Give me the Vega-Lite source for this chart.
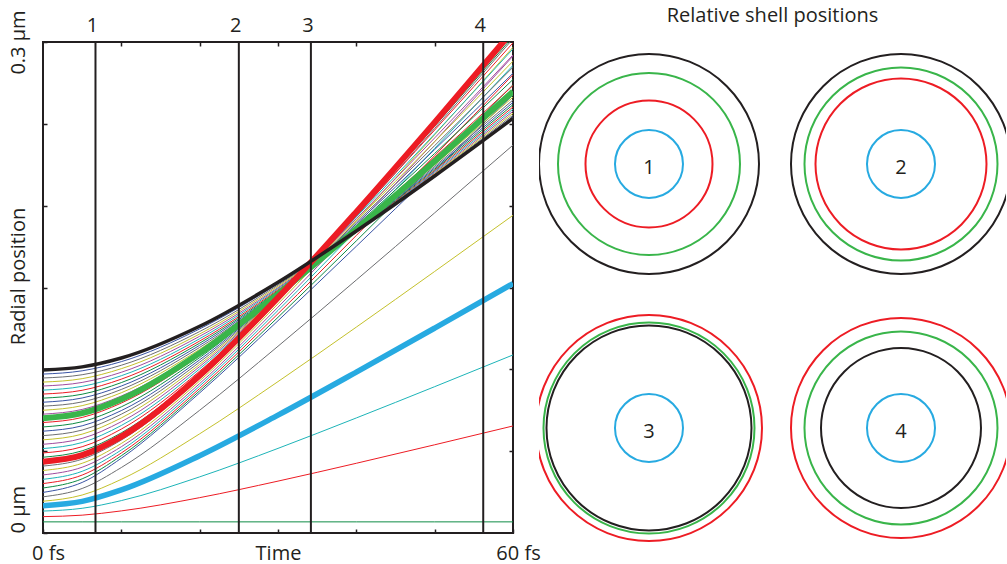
{
  "$schema": "https://vega.github.io/schema/vega-lite/v6.json",
  "background": "white",
  "padding": {"left": 6, "top": 6, "right": 0, "bottom": 0},
  "config": {
    "font": "Open Sans",
    "view": {"stroke": null},
    "axis": {"grid": false, "domain": false, "tickColor": "#231f20", "tickWidth": 1.5, "labelColor": "#231f20", "labelFontSize": 20, "titleColor": "#231f20", "titleFontSize": 20, "titleFontWeight": "normal", "labelFlush": false, "labelOverlap": false}
  },
  "datasets": {
    "moments": [
      {"moment": "1", "t": 6.7}, {"moment": "2", "t": 25}, {"moment": "3", "t": 34.2}, {"moment": "4", "t": 56.2}
    ],
    "circles": [
      {"panel": "1", "col": 1, "row": 1, "shell": 35, "radius": 110},
      {"panel": "1", "col": 1, "row": 1, "shell": 23, "radius": 91},
      {"panel": "1", "col": 1, "row": 1, "shell": 13, "radius": 63.5},
      {"panel": "1", "col": 1, "row": 1, "shell": 3, "radius": 34},
      {"panel": "2", "col": 2, "row": 1, "shell": 35, "radius": 110},
      {"panel": "2", "col": 2, "row": 1, "shell": 23, "radius": 96.5},
      {"panel": "2", "col": 2, "row": 1, "shell": 13, "radius": 85.5},
      {"panel": "2", "col": 2, "row": 1, "shell": 3, "radius": 34},
      {"panel": "3", "col": 1, "row": 2, "shell": 13, "radius": 113},
      {"panel": "3", "col": 1, "row": 2, "shell": 23, "radius": 105.5},
      {"panel": "3", "col": 1, "row": 2, "shell": 35, "radius": 102.5},
      {"panel": "3", "col": 1, "row": 2, "shell": 3, "radius": 34},
      {"panel": "4", "col": 2, "row": 2, "shell": 13, "radius": 110},
      {"panel": "4", "col": 2, "row": 2, "shell": 23, "radius": 96.5},
      {"panel": "4", "col": 2, "row": 2, "shell": 35, "radius": 80},
      {"panel": "4", "col": 2, "row": 2, "shell": 3, "radius": 34}
    ],
    "shells": [
      {"k":0,"t":0,"r":0.0068},{"k":0,"t":5,"r":0.0068},{"k":0,"t":10,"r":0.0068},{"k":0,"t":20,"r":0.0068},{"k":0,"t":30,"r":0.0068},{"k":0,"t":40,"r":0.0068},{"k":0,"t":50,"r":0.0068},{"k":0,"t":60,"r":0.0068},
      {"k":1,"t":0,"r":0.0100},{"k":1,"t":5,"r":0.0109},{"k":1,"t":10,"r":0.0135},{"k":1,"t":20,"r":0.0216},{"k":1,"t":30,"r":0.0317},{"k":1,"t":40,"r":0.0426},{"k":1,"t":50,"r":0.0539},{"k":1,"t":60,"r":0.0654},
      {"k":2,"t":0,"r":0.0134},{"k":2,"t":5,"r":0.0151},{"k":2,"t":10,"r":0.0198},{"k":2,"t":20,"r":0.0343},{"k":2,"t":30,"r":0.0517},{"k":2,"t":40,"r":0.0703},{"k":2,"t":50,"r":0.0894},{"k":2,"t":60,"r":0.1088},
      {"k":3,"t":0,"r":0.0167},{"k":3,"t":5,"r":0.0193},{"k":3,"t":10,"r":0.0263},{"k":3,"t":20,"r":0.0472},{"k":3,"t":30,"r":0.0720},{"k":3,"t":40,"r":0.0983},{"k":3,"t":50,"r":0.1252},{"k":3,"t":60,"r":0.1524},
      {"k":4,"t":0,"r":0.0194},{"k":4,"t":5,"r":0.0232},{"k":4,"t":10,"r":0.0328},{"k":4,"t":20,"r":0.0606},{"k":4,"t":30,"r":0.0925},{"k":4,"t":40,"r":0.1258},{"k":4,"t":50,"r":0.1598},{"k":4,"t":60,"r":0.1941},
      {"k":5,"t":0,"r":0.0221},{"k":5,"t":5,"r":0.0272},{"k":5,"t":10,"r":0.0400},{"k":5,"t":20,"r":0.0750},{"k":5,"t":30,"r":0.1141},{"k":5,"t":40,"r":0.1546},{"k":5,"t":50,"r":0.1956},{"k":5,"t":60,"r":0.2370},
      {"k":6,"t":0,"r":0.0248},{"k":6,"t":5,"r":0.0309},{"k":6,"t":10,"r":0.0457},{"k":6,"t":20,"r":0.0856},{"k":6,"t":30,"r":0.1297},{"k":6,"t":40,"r":0.1752},{"k":6,"t":50,"r":0.2213},{"k":6,"t":60,"r":0.2677},
      {"k":7,"t":0,"r":0.0275},{"k":7,"t":5,"r":0.0331},{"k":7,"t":10,"r":0.0472},{"k":7,"t":20,"r":0.0869},{"k":7,"t":30,"r":0.1318},{"k":7,"t":40,"r":0.1785},{"k":7,"t":50,"r":0.2260},{"k":7,"t":60,"r":0.2739},
      {"k":8,"t":0,"r":0.0302},{"k":8,"t":5,"r":0.0354},{"k":8,"t":10,"r":0.0489},{"k":8,"t":20,"r":0.0883},{"k":8,"t":30,"r":0.1340},{"k":8,"t":40,"r":0.1818},{"k":8,"t":50,"r":0.2306},{"k":8,"t":60,"r":0.2800},
      {"k":9,"t":0,"r":0.0328},{"k":9,"t":5,"r":0.0377},{"k":9,"t":10,"r":0.0507},{"k":9,"t":20,"r":0.0898},{"k":9,"t":30,"r":0.1360},{"k":9,"t":40,"r":0.1849},{"k":9,"t":50,"r":0.2350},{"k":9,"t":60,"r":0.2857},
      {"k":10,"t":0,"r":0.0355},{"k":10,"t":5,"r":0.0402},{"k":10,"t":10,"r":0.0527},{"k":10,"t":20,"r":0.0913},{"k":10,"t":30,"r":0.1380},{"k":10,"t":40,"r":0.1879},{"k":10,"t":50,"r":0.2392},{"k":10,"t":60,"r":0.2914},
      {"k":11,"t":0,"r":0.0382},{"k":11,"t":5,"r":0.0426},{"k":11,"t":10,"r":0.0547},{"k":11,"t":20,"r":0.0929},{"k":11,"t":30,"r":0.1400},{"k":11,"t":40,"r":0.1907},{"k":11,"t":50,"r":0.2433},{"k":11,"t":60,"r":0.2968},
      {"k":12,"t":0,"r":0.0409},{"k":12,"t":5,"r":0.0451},{"k":12,"t":10,"r":0.0568},{"k":12,"t":20,"r":0.0945},{"k":12,"t":30,"r":0.1419},{"k":12,"t":40,"r":0.1935},{"k":12,"t":50,"r":0.2472},{"k":12,"t":60,"r":0.3020},
      {"k":13,"t":0,"r":0.0436},{"k":13,"t":5,"r":0.0476},{"k":13,"t":10,"r":0.0589},{"k":13,"t":20,"r":0.0962},{"k":13,"t":30,"r":0.1438},{"k":13,"t":40,"r":0.1962},{"k":13,"t":50,"r":0.2509},{"k":13,"t":60,"r":0.3070},
      {"k":14,"t":0,"r":0.0463},{"k":14,"t":5,"r":0.0502},{"k":14,"t":10,"r":0.0612},{"k":14,"t":20,"r":0.0975},{"k":14,"t":30,"r":0.1440},{"k":14,"t":40,"r":0.1951},{"k":14,"t":50,"r":0.2486},{"k":14,"t":60,"r":0.3033},
      {"k":15,"t":0,"r":0.0489},{"k":15,"t":5,"r":0.0527},{"k":15,"t":10,"r":0.0635},{"k":15,"t":20,"r":0.0989},{"k":15,"t":30,"r":0.1443},{"k":15,"t":40,"r":0.1941},{"k":15,"t":50,"r":0.2462},{"k":15,"t":60,"r":0.2995},
      {"k":16,"t":0,"r":0.0516},{"k":16,"t":5,"r":0.0553},{"k":16,"t":10,"r":0.0657},{"k":16,"t":20,"r":0.1003},{"k":16,"t":30,"r":0.1445},{"k":16,"t":40,"r":0.1931},{"k":16,"t":50,"r":0.2438},{"k":16,"t":60,"r":0.2958},
      {"k":17,"t":0,"r":0.0542},{"k":17,"t":5,"r":0.0578},{"k":17,"t":10,"r":0.0680},{"k":17,"t":20,"r":0.1017},{"k":17,"t":30,"r":0.1447},{"k":17,"t":40,"r":0.1920},{"k":17,"t":50,"r":0.2414},{"k":17,"t":60,"r":0.2921},
      {"k":18,"t":0,"r":0.0569},{"k":18,"t":5,"r":0.0604},{"k":18,"t":10,"r":0.0703},{"k":18,"t":20,"r":0.1030},{"k":18,"t":30,"r":0.1449},{"k":18,"t":40,"r":0.1910},{"k":18,"t":50,"r":0.2391},{"k":18,"t":60,"r":0.2883},
      {"k":19,"t":0,"r":0.0595},{"k":19,"t":5,"r":0.0629},{"k":19,"t":10,"r":0.0726},{"k":19,"t":20,"r":0.1044},{"k":19,"t":30,"r":0.1451},{"k":19,"t":40,"r":0.1899},{"k":19,"t":50,"r":0.2367},{"k":19,"t":60,"r":0.2846},
      {"k":20,"t":0,"r":0.0622},{"k":20,"t":5,"r":0.0655},{"k":20,"t":10,"r":0.0748},{"k":20,"t":20,"r":0.1058},{"k":20,"t":30,"r":0.1454},{"k":20,"t":40,"r":0.1889},{"k":20,"t":50,"r":0.2343},{"k":20,"t":60,"r":0.2809},
      {"k":21,"t":0,"r":0.0648},{"k":21,"t":5,"r":0.0680},{"k":21,"t":10,"r":0.0771},{"k":21,"t":20,"r":0.1072},{"k":21,"t":30,"r":0.1456},{"k":21,"t":40,"r":0.1878},{"k":21,"t":50,"r":0.2319},{"k":21,"t":60,"r":0.2771},
      {"k":22,"t":0,"r":0.0675},{"k":22,"t":5,"r":0.0706},{"k":22,"t":10,"r":0.0794},{"k":22,"t":20,"r":0.1085},{"k":22,"t":30,"r":0.1458},{"k":22,"t":40,"r":0.1868},{"k":22,"t":50,"r":0.2296},{"k":22,"t":60,"r":0.2734},
      {"k":23,"t":0,"r":0.0701},{"k":23,"t":5,"r":0.0732},{"k":23,"t":10,"r":0.0817},{"k":23,"t":20,"r":0.1099},{"k":23,"t":30,"r":0.1460},{"k":23,"t":40,"r":0.1857},{"k":23,"t":50,"r":0.2272},{"k":23,"t":60,"r":0.2697},
      {"k":24,"t":0,"r":0.0726},{"k":24,"t":5,"r":0.0755},{"k":24,"t":10,"r":0.0837},{"k":24,"t":20,"r":0.1110},{"k":24,"t":30,"r":0.1463},{"k":24,"t":40,"r":0.1853},{"k":24,"t":50,"r":0.2261},{"k":24,"t":60,"r":0.2679},
      {"k":25,"t":0,"r":0.0750},{"k":25,"t":5,"r":0.0778},{"k":25,"t":10,"r":0.0857},{"k":25,"t":20,"r":0.1122},{"k":25,"t":30,"r":0.1467},{"k":25,"t":40,"r":0.1849},{"k":25,"t":50,"r":0.2250},{"k":25,"t":60,"r":0.2663},
      {"k":26,"t":0,"r":0.0775},{"k":26,"t":5,"r":0.0801},{"k":26,"t":10,"r":0.0877},{"k":26,"t":20,"r":0.1134},{"k":26,"t":30,"r":0.1470},{"k":26,"t":40,"r":0.1845},{"k":26,"t":50,"r":0.2240},{"k":26,"t":60,"r":0.2646},
      {"k":27,"t":0,"r":0.0799},{"k":27,"t":5,"r":0.0825},{"k":27,"t":10,"r":0.0898},{"k":27,"t":20,"r":0.1147},{"k":27,"t":30,"r":0.1475},{"k":27,"t":40,"r":0.1843},{"k":27,"t":50,"r":0.2231},{"k":27,"t":60,"r":0.2631},
      {"k":28,"t":0,"r":0.0824},{"k":28,"t":5,"r":0.0848},{"k":28,"t":10,"r":0.0919},{"k":28,"t":20,"r":0.1160},{"k":28,"t":30,"r":0.1480},{"k":28,"t":40,"r":0.1841},{"k":28,"t":50,"r":0.2223},{"k":28,"t":60,"r":0.2617},
      {"k":29,"t":0,"r":0.0849},{"k":29,"t":5,"r":0.0872},{"k":29,"t":10,"r":0.0940},{"k":29,"t":20,"r":0.1173},{"k":29,"t":30,"r":0.1486},{"k":29,"t":40,"r":0.1840},{"k":29,"t":50,"r":0.2215},{"k":29,"t":60,"r":0.2603},
      {"k":30,"t":0,"r":0.0873},{"k":30,"t":5,"r":0.0896},{"k":30,"t":10,"r":0.0961},{"k":30,"t":20,"r":0.1187},{"k":30,"t":30,"r":0.1493},{"k":30,"t":40,"r":0.1839},{"k":30,"t":50,"r":0.2208},{"k":30,"t":60,"r":0.2590},
      {"k":31,"t":0,"r":0.0898},{"k":31,"t":5,"r":0.0920},{"k":31,"t":10,"r":0.0982},{"k":31,"t":20,"r":0.1202},{"k":31,"t":30,"r":0.1499},{"k":31,"t":40,"r":0.1839},{"k":31,"t":50,"r":0.2201},{"k":31,"t":60,"r":0.2577},
      {"k":32,"t":0,"r":0.0922},{"k":32,"t":5,"r":0.0943},{"k":32,"t":10,"r":0.1004},{"k":32,"t":20,"r":0.1216},{"k":32,"t":30,"r":0.1507},{"k":32,"t":40,"r":0.1839},{"k":32,"t":50,"r":0.2195},{"k":32,"t":60,"r":0.2565},
      {"k":33,"t":0,"r":0.0947},{"k":33,"t":5,"r":0.0967},{"k":33,"t":10,"r":0.1025},{"k":33,"t":20,"r":0.1231},{"k":33,"t":30,"r":0.1515},{"k":33,"t":40,"r":0.1840},{"k":33,"t":50,"r":0.2190},{"k":33,"t":60,"r":0.2553},
      {"k":34,"t":0,"r":0.0971},{"k":34,"t":5,"r":0.0991},{"k":34,"t":10,"r":0.1047},{"k":34,"t":20,"r":0.1247},{"k":34,"t":30,"r":0.1523},{"k":34,"t":40,"r":0.1842},{"k":34,"t":50,"r":0.2185},{"k":34,"t":60,"r":0.2543},
      {"k":35,"t":0,"r":0.0996},{"k":35,"t":5,"r":0.1015},{"k":35,"t":10,"r":0.1069},{"k":35,"t":20,"r":0.1263},{"k":35,"t":30,"r":0.1532},{"k":35,"t":40,"r":0.1845},{"k":35,"t":50,"r":0.2181},{"k":35,"t":60,"r":0.2533}
    ]
  },
  "bounds": "flush",
  "spacing": 26,
  "resolve": {"scale": {"color": "independent", "x": "independent", "y": "independent", "size": "independent"}},
  "hconcat": [
    {
      "width": 470,
      "height": 491,
      "view": {"stroke": "#231f20", "strokeWidth": 2},
      "resolve": {"axis": {"x": "independent", "y": "independent"}},
      "layer": [
        {
          "data": {"name": "shells"},
          "transform": [{"filter": "datum.k != 3 && datum.k != 13 && datum.k != 23 && datum.k != 35"}],
          "mark": {"type": "line", "interpolate": "monotone", "strokeWidth": 1, "clip": true},
          "encoding": {
            "x": {"field": "t", "type": "quantitative", "scale": {"domain": [0, 60], "nice": false},
              "axis": {"orient": "bottom", "values": [0, 10, 20, 30, 40, 50, 60], "tickSize": -4,
                "labelExpr": "datum.value == 0 ? '0 fs' : datum.value == 60 ? '60 fs' : ''",
                "labelPadding": 30.5, "labelBaseline": "alphabetic", "labelOffset": 5,
                "title": "Time", "titleBaseline": "alphabetic", "titleY": 26.5}},
            "y": {"field": "r", "type": "quantitative", "scale": {"domain": [0, 0.3], "nice": false},
              "axis": {"orient": "left", "values": [0, 0.05, 0.1, 0.15, 0.2, 0.25, 0.3], "tickSize": -4,
                "labelExpr": "datum.value == 0 ? '0 µm' : datum.value == 0.3 ? '0.3 µm' : ''",
                "labelAngle": -90,
                "labelAlign": {"condition": {"test": "datum.value == 0", "value": "left"}, "value": "center"},
                "labelBaseline": "alphabetic", "labelPadding": 23,
                "title": "Radial position", "titleAngle": -90, "titleBaseline": "alphabetic", "titleX": -19, "titleY": 234}},
            "color": {"field": "k", "type": "ordinal",
              "scale": {"domain": [0,1,2,3,4,5,6,7,8,9,10,11,12,13,14,15,16,17,18,19,20,21,22,23,24,25,26,27,28,29,30,31,32,33,34,35],
                "range": ["#0f8b45", "#ed1c24", "#1db4b8", "#a04c9e", "#c4c12c", "#6d6e71", "#3a54a4"]},
              "legend": null}
          }
        },
        {
          "data": {"name": "shells"},
          "transform": [{"filter": "datum.k == 3"}],
          "mark": {"type": "line", "interpolate": "monotone", "color": "#27aae1", "strokeWidth": 5.5, "clip": true},
          "encoding": {
            "x": {"field": "t", "type": "quantitative", "scale": {"domain": [0, 60], "nice": false},
              "axis": {"orient": "top", "values": [10, 20, 30, 40, 50], "tickSize": -4, "labels": false, "title": null}},
            "y": {"field": "r", "type": "quantitative", "scale": {"domain": [0, 0.3], "nice": false},
              "axis": {"orient": "right", "values": [0.05, 0.1, 0.15, 0.2, 0.25], "tickSize": -4, "labels": false, "title": null}}
          }
        },
        {
          "data": {"name": "shells"},
          "transform": [{"filter": "datum.k == 23"}],
          "mark": {"type": "line", "interpolate": "monotone", "color": "#39b54a", "strokeWidth": 6, "clip": true},
          "encoding": {
            "x": {"field": "t", "type": "quantitative", "scale": {"domain": [0, 60], "nice": false}, "axis": null},
            "y": {"field": "r", "type": "quantitative", "scale": {"domain": [0, 0.3], "nice": false}, "axis": null}
          }
        },
        {
          "data": {"name": "shells"},
          "transform": [{"filter": "datum.k == 13"}],
          "mark": {"type": "line", "interpolate": "monotone", "color": "#ed1c24", "strokeWidth": 6, "clip": true},
          "encoding": {
            "x": {"field": "t", "type": "quantitative", "scale": {"domain": [0, 60], "nice": false}, "axis": null},
            "y": {"field": "r", "type": "quantitative", "scale": {"domain": [0, 0.3], "nice": false}, "axis": null}
          }
        },
        {
          "data": {"name": "shells"},
          "transform": [{"filter": "datum.k == 35"}],
          "mark": {"type": "line", "interpolate": "monotone", "color": "#231f20", "strokeWidth": 3.5, "clip": true},
          "encoding": {
            "x": {"field": "t", "type": "quantitative", "scale": {"domain": [0, 60], "nice": false}, "axis": null},
            "y": {"field": "r", "type": "quantitative", "scale": {"domain": [0, 0.3], "nice": false}, "axis": null}
          }
        },
        {
          "data": {"name": "moments"},
          "mark": {"type": "rule", "color": "#231f20", "strokeWidth": 2},
          "encoding": {
            "x": {"field": "t", "type": "quantitative", "scale": {"domain": [0, 60], "nice": false}, "axis": null}
          }
        },
        {
          "data": {"name": "moments"},
          "mark": {"type": "text", "fontSize": 20, "baseline": "alphabetic", "align": "center", "dy": -10, "dx": -3, "color": "#231f20"},
          "encoding": {
            "x": {"field": "t", "type": "quantitative", "scale": {"domain": [0, 60], "nice": false}, "axis": null},
            "y": {"datum": 0.3, "type": "quantitative", "scale": {"domain": [0, 0.3], "nice": false}, "axis": null},
            "text": {"field": "moment"}
          }
        }
      ]
    },
    {
      "width": 467,
      "height": 506,
      "view": {"stroke": null},
      "title": {"text": "Relative shell positions", "fontSize": 20, "fontWeight": "normal", "color": "#231f20", "anchor": "middle", "baseline": "alphabetic", "offset": 0},
      "layer": [
        {
          "data": {"name": "circles"},
          "mark": {"type": "point", "shape": "circle", "filled": false, "strokeWidth": 2, "opacity": 1, "clip": true},
          "encoding": {
            "x": {"field": "col", "type": "ordinal", "scale": {"type": "point", "padding": 0.4266, "align": 0.5116}, "axis": null},
            "y": {"field": "row", "type": "ordinal", "scale": {"type": "point", "padding": 0.4583, "align": 0.5041}, "axis": null},
            "size": {"field": "radius", "type": "quantitative", "scale": {"type": "pow", "exponent": 2, "domain": [0, 110], "range": [0, 48400]}, "legend": null},
            "color": {"field": "shell", "type": "nominal", "scale": {"domain": [3, 13, 23, 35], "range": ["#27aae1", "#ed1c24", "#39b54a", "#231f20"]}, "legend": null}
          }
        },
        {
          "data": {"name": "circles"},
          "transform": [{"filter": "datum.shell == 3"}],
          "mark": {"type": "text", "fontSize": 20, "baseline": "middle", "align": "center", "dy": 4, "color": "#231f20"},
          "encoding": {
            "x": {"field": "col", "type": "ordinal", "scale": {"type": "point", "padding": 0.4266, "align": 0.5116}, "axis": null},
            "y": {"field": "row", "type": "ordinal", "scale": {"type": "point", "padding": 0.4583, "align": 0.5041}, "axis": null},
            "text": {"field": "panel"}
          }
        }
      ]
    }
  ]
}
